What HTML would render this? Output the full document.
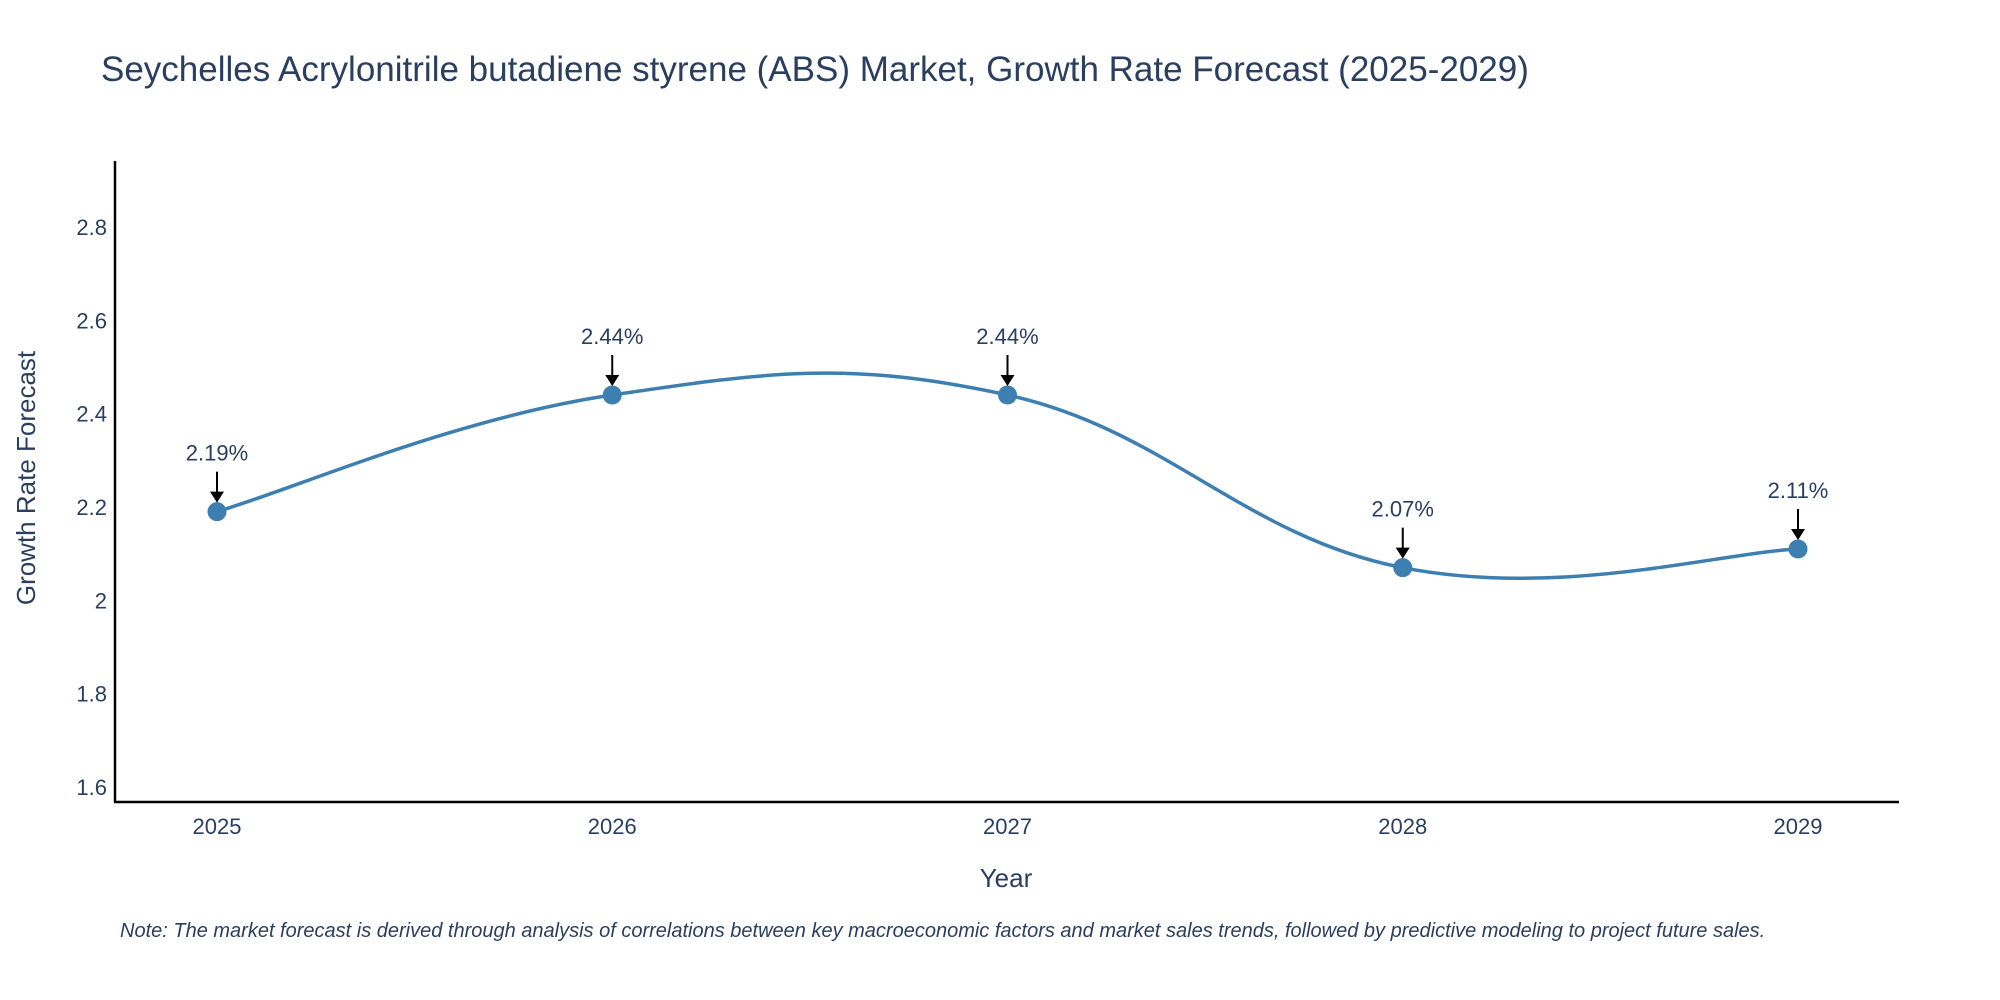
<!DOCTYPE html>
<html><head><meta charset="utf-8"><style>
body{margin:0;background:#fff;}
svg{display:block;font-family:"Liberation Sans",sans-serif;}
</style></head><body>
<svg id="chart" width="2000" height="1000" viewBox="0 0 2000 1000">
<text x="101" y="81" font-size="35" fill="#2a3f5f">Seychelles Acrylonitrile butadiene styrene (ABS) Market, Growth Rate Forecast (2025-2029)</text>
<g id="yticks"></g>
<g id="xticks"></g>
<line x1="115" y1="161" x2="115" y2="802" stroke="#000" stroke-width="2.5"/>
<line x1="114" y1="802" x2="1899" y2="802" stroke="#000" stroke-width="2.5"/>
<path id="line" fill="none" stroke="#3d7fb0" stroke-width="3.5"/>
<g id="points"></g>
<g id="annots"></g>
<text x="1006" y="887" font-size="26" fill="#2a3f5f" text-anchor="middle">Year</text>
<text transform="translate(35,478) rotate(-90)" font-size="26" fill="#2a3f5f" text-anchor="middle">Growth Rate Forecast</text>
<text x="120" y="937" font-size="20" font-style="italic" fill="#2a3f5f">Note: The market forecast is derived through analysis of correlations between key macroeconomic factors and market sales trends, followed by predictive modeling to project future sales.</text>
</svg>
<script>
const years=[2025,2026,2027,2028,2029];
const values=[2.19,2.44,2.44,2.07,2.11];
const labels=["2.19%","2.44%","2.44%","2.07%","2.11%"];
const yTicks=[1.6,1.8,2,2.2,2.4,2.6,2.8];
const NS="http://www.w3.org/2000/svg";
const xS=v=>217+(v-2025)*395.25;
const yS=v=>787-(v-1.6)*(560/1.2);
function mk(t,a,p){const e=document.createElementNS(NS,t);for(const k in a)e.setAttribute(k,a[k]);p.appendChild(e);return e;}
const yt=document.getElementById('yticks');
yTicks.forEach(v=>{const t=mk('text',{x:107,y:yS(v)+8,'font-size':22,fill:'#2a3f5f','text-anchor':'end'},yt);


t.textContent=String(v);});
const xt=document.getElementById('xticks');
years.forEach(v=>{const t=mk('text',{x:xS(v),y:834,'font-size':22,fill:'#2a3f5f','text-anchor':'middle'},xt);


t.textContent=String(v);});
const P=years.map((y,i)=>[xS(y),yS(values[i])]);
let d=`M${P[0][0]},${P[0][1]}`;const s=0.2;
for(let i=0;i<P.length-1;i++){const p0=P[Math.max(0,i-1)],p1=P[i],p2=P[i+1],p3=P[Math.min(P.length-1,i+2)];
const c1=[p1[0]+(p2[0]-p0[0])*s,p1[1]+(p2[1]-p0[1])*s];
const c2=[p2[0]-(p3[0]-p1[0])*s,p2[1]-(p3[1]-p1[1])*s];
d+=` C${c1[0]},${c1[1]} ${c2[0]},${c2[1]} ${p2[0]},${p2[1]}`;}
document.getElementById('line').setAttribute('d',d);
const pts=document.getElementById('points'),an=document.getElementById('annots');
P.forEach((p,i)=>{const c=mk('circle',{cx:p[0],cy:p[1],r:9.5,fill:'#3d7fb0'},pts);


const l=mk('line',{x1:p[0],y1:p[1]-40,x2:p[0],y2:p[1]-18,stroke:'#000','stroke-width':2},an);


const a=mk('path',{d:`M${p[0]-7},${p[1]-20} L${p[0]+7},${p[1]-20} L${p[0]},${p[1]-9} Z`,fill:'#000'},an);


const t=mk('text',{x:p[0],y:p[1]-51,'font-size':22,fill:'#2a3f5f','text-anchor':'middle'},an);


t.textContent=labels[i];});
</script>
</body></html>
